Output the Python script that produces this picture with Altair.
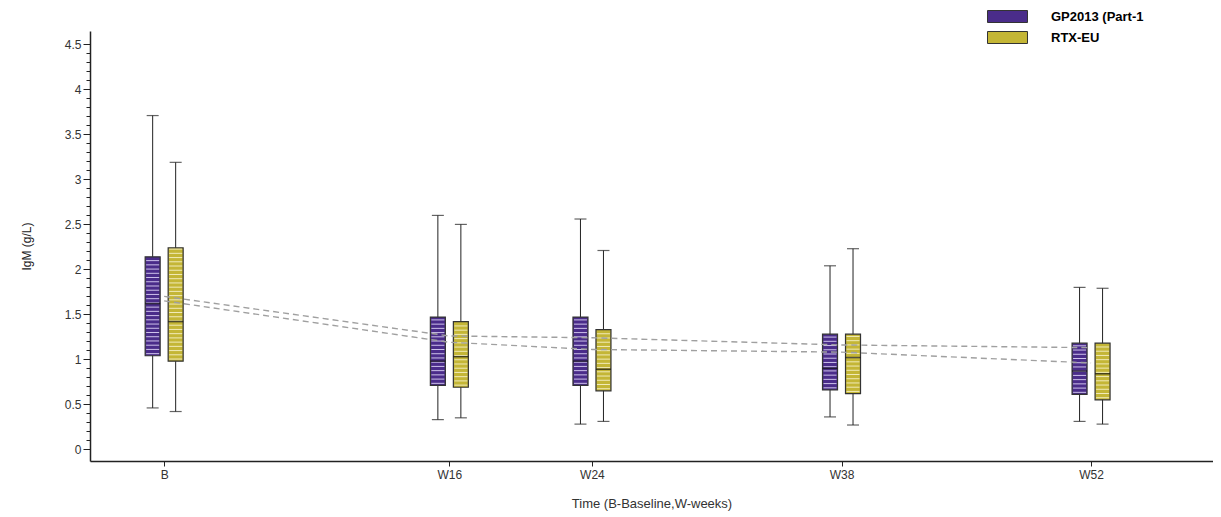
import altair as alt
import pandas as pd
import numpy as np

# ---------------- data ----------------
weeks = [0, 16, 24, 38, 52]
x_labels = ["B", "W16", "W24", "W38", "W52"]
series = ["GP2013 (Part-1", "RTX-EU"]

gp_min = [0.46, 0.33, 0.28, 0.36, 0.31]
gp_q1 = [1.04, 0.71, 0.71, 0.66, 0.61]
gp_med = [1.62, 0.98, 0.98, 0.90, 0.87]
gp_q3 = [2.14, 1.47, 1.47, 1.28, 1.18]
gp_max = [3.71, 2.60, 2.56, 2.04, 1.80]
gp_mean = [1.70, 1.26, 1.24, 1.16, 1.13]

rtx_min = [0.42, 0.35, 0.31, 0.27, 0.28]
rtx_q1 = [0.98, 0.69, 0.65, 0.62, 0.55]
rtx_med = [1.42, 1.03, 0.89, 1.02, 0.84]
rtx_q3 = [2.24, 1.42, 1.33, 1.28, 1.18]
rtx_max = [3.19, 2.50, 2.21, 2.23, 1.79]
rtx_mean = [1.65, 1.19, 1.11, 1.08, 0.96]

# ---------------- tables ----------------
rows = []
for s, mn, q1, md, q3, mx, me in [
    (series[0], gp_min, gp_q1, gp_med, gp_q3, gp_max, gp_mean),
    (series[1], rtx_min, rtx_q1, rtx_med, rtx_q3, rtx_max, rtx_mean),
]:
    for i, w in enumerate(weeks):
        rows.append(dict(series=s, week=w, lo=mn[i], q1=q1[i], med=md[i],
                         q3=q3[i], hi=mx[i], mean=me[i]))
df = pd.DataFrame(rows)

# decorative horizontal hatching inside each box
stripe_step = 0.047
srows = []
for r in rows:
    for yv in np.arange(r["q1"] + stripe_step / 2, r["q3"] - 0.01, stripe_step):
        srows.append(dict(series=r["series"], week=r["week"], y=float(yv)))
sdf = pd.DataFrame(srows)

# ---------------- styling ----------------
FONT = "Liberation Sans"
colors = ["#4a2c8a", "#c4b636"]
stripe_colors = ["#ddd3f5", "#f6f1c8"]
offsets = [-11.5, 11.5]

label_expr = " : ".join(
    [f"datum.value == {w} ? '{l}'" for w, l in zip(weeks, x_labels)]) + " : ''"

xscale = alt.Scale(domain=[-3.88, 58.56], nice=False, zero=False)
yscale = alt.Scale(domain=[-0.13, 4.65], nice=False, zero=False)

xaxis = alt.Axis(values=weeks, labelExpr=label_expr, title="Time (B-Baseline,W-weeks)",
                 grid=False, domainColor="#222", domainWidth=1.5, tickColor="#222",
                 tickSize=5, labelFont=FONT, labelFontSize=12,
                 labelColor="#333", labelPadding=3, titleFont=FONT,
                 titleFontSize=13, titleFontWeight="normal", titleColor="#333",
                 titlePadding=17)

y_minor = [round(v, 1) for v in np.arange(0, 4.501, 0.1)]
major_test = "abs(datum.value*2 - round(datum.value*2)) < 0.001"
yaxis = alt.Axis(values=y_minor, title="IgM (g/L)", grid=False, domainColor="#222",
                 domainWidth=1.5, tickColor="#222",
                 tickSize={"expr": f"{major_test} ? 7 : 4"},
                 labelExpr=f"{major_test} ? format(datum.value, '~g') : ''",
                 labelOverlap=False, labelFont=FONT, labelFontSize=12,
                 labelColor="#333", labelPadding=2, titleFont=FONT, titleFontSize=12,
                 titleFontWeight="normal", titleColor="#222", titlePadding=31)

X = alt.X("week:Q", scale=xscale, axis=xaxis)

legend = alt.Legend(title=None, orient="none", legendX=911, legendY=-21,
                    symbolType="M-3.333,-1H3.333V1H-3.333Z", symbolSize=144,
                    symbolStrokeColor="#333", symbolStrokeWidth=1,
                    labelFont=FONT, labelFontSize=13, labelFontWeight="bold",
                    labelColor="#000", labelOffset=37, rowPadding=4, padding=0)
fill = alt.Fill("series:N", scale=alt.Scale(domain=series, range=colors), legend=legend)

layers = []
for i, s in enumerate(series):
    base = alt.Chart(df[df.series == s])
    off = offsets[i]
    layers.append(base.mark_rule(xOffset=off, color="#222", strokeWidth=1).encode(
        x=X, y=alt.Y("lo:Q", scale=yscale, axis=yaxis), y2="hi:Q"))
    layers.append(base.mark_tick(orient="horizontal", size=12, thickness=1.2,
                                 xOffset=off, color="#222").encode(
        x=X, y=alt.Y("hi:Q", scale=yscale, axis=yaxis)))
    layers.append(base.mark_tick(orient="horizontal", size=12, thickness=1.2,
                                 xOffset=off, color="#222").encode(
        x=X, y=alt.Y("lo:Q", scale=yscale, axis=yaxis)))
    layers.append(base.mark_bar(size=15, xOffset=off, stroke="#333", strokeWidth=1.2,
                                opacity=1).encode(
        x=X, y=alt.Y("q1:Q", scale=yscale, axis=yaxis), y2="q3:Q", fill=fill))
    layers.append(alt.Chart(sdf[sdf.series == s]).mark_tick(
        orient="horizontal", size=13, thickness=1, xOffset=off,
        color=stripe_colors[i], opacity=0.9).encode(
        x=X, y=alt.Y("y:Q", scale=yscale, axis=yaxis)))
    layers.append(base.mark_tick(orient="horizontal", size=15, thickness=1.5,
                                 xOffset=off, color="#111").encode(
        x=X, y=alt.Y("med:Q", scale=yscale, axis=yaxis)))

layers.append(alt.Chart(df).mark_line(strokeDash=[6, 4], color="#a0a0a0",
                                      strokeWidth=1.4).encode(
    x=X, y=alt.Y("mean:Q", scale=yscale, axis=yaxis), detail="series:N"))

chart = alt.layer(*layers).properties(
    width=1123, height=430,
    padding={"left": 82, "top": 23, "right": 0, "bottom": 56},
    autosize=alt.AutoSizeParams(type="none"),
).configure(background="white").configure_view(stroke=None)

chart.save("out.html", embed_options={"renderer": "svg", "actions": False})
